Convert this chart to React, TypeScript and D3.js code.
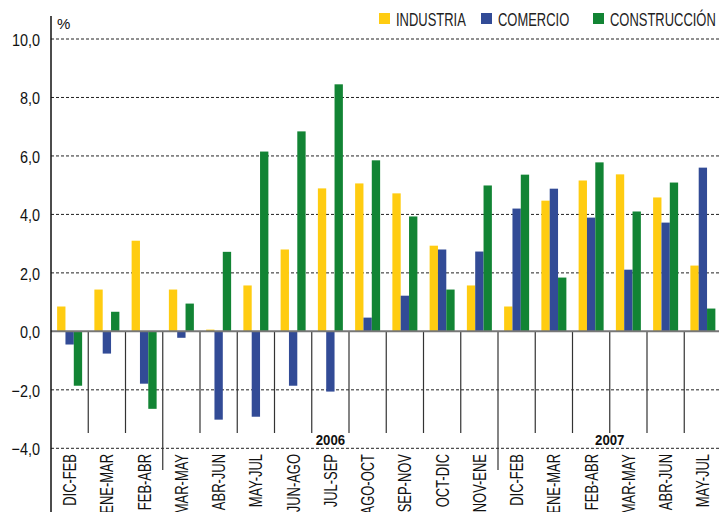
import React from "react";
import * as d3 from "d3";

const categories = [
  "DIC-FEB", "ENE-MAR", "FEB-ABR", "MAR-MAY", "ABR-JUN", "MAY-JUL",
  "JUN-AGO", "JUL-SEP", "AGO-OCT", "SEP-NOV", "OCT-DIC", "NOV-ENE",
  "DIC-FEB", "ENE-MAR", "FEB-ABR", "MAR-MAY", "ABR-JUN", "MAY-JUL",
];
const industria = [0.85, 1.43, 3.1, 1.43, 0.06, 1.57, 2.8, 4.89, 5.06, 4.72, 2.93, 1.57, 0.85, 4.47, 5.16, 5.37, 4.58, 2.25];
const comercio = [-0.45, -0.76, -1.79, -0.22, -3.02, -2.92, -1.86, -2.06, 0.47, 1.22, 2.8, 2.73, 4.2, 4.88, 3.89, 2.11, 3.72, 5.6];
const construccion = [-1.86, 0.67, -2.65, 0.95, 2.72, 6.15, 6.84, 8.45, 5.85, 3.93, 1.43, 4.99, 5.36, 1.84, 5.78, 4.1, 5.09, 0.78];
const yTicks = [10, 8, 6, 4, 2, 0, -2, -4];
const seriesNames = ["INDUSTRIA", "COMERCIO", "CONSTRUCCIÓN"];
const seriesColors = ["#FFCC11", "#324B96", "#128434"];
// year label: [label, first band, last band]
const years: [string, number, number][] = [["2006", 3, 11], ["2007", 12, 17]];
const yearBreaks = [3, 12];

const W = 719;
const H = 512;
const font = "'Liberation Sans', Arial, sans-serif";

export default function App() {
  const x = d3.scaleBand<number>().domain(d3.range(categories.length)).range([51, 721.5]);
  const y = d3.scaleLinear().domain([-4, 10]).range([448.3, 39]);
  const inner = d3.scaleBand<number>().domain([0, 1, 2]).range([0, 25]);
  const series = [industria, comercio, construccion];
  const bw = x.bandwidth();
  const y0 = y(0);

  return (
    <svg width={W} height={H} style={{ position: "absolute", left: 0, top: 0, background: "#fff" }} fontFamily={font}>
      {/* gridlines */}
      {yTicks.filter(t => t !== 0).map(t => (
        <line key={t} x1={51} x2={W} y1={y(t)} y2={y(t)} stroke="#222" strokeWidth={1} strokeDasharray="3,2" />
      ))}
      {/* y labels */}
      {yTicks.map(t => (
        <text key={t} transform={`translate(40,${y(t) + 7}) scale(0.85,1)`} textAnchor="end" fontSize={17} fill="#111">
          {d3.format(".1f")(t).replace(".", ",")}
        </text>
      ))}
      <text x={57} y={29} fontSize={15} fill="#111">%</text>

      {/* bars */}
      {series.map((vals, s) => (
        <g key={s} fill={seriesColors[s]}>
          {vals.map((v, i) => (
            <rect key={i}
              x={x(i)! + bw / 2 - 12.5 + inner(s)!}
              y={Math.min(y(v), y0)}
              width={inner.bandwidth()}
              height={Math.abs(y(v) - y0)} />
          ))}
        </g>
      ))}

      {/* separators */}
      {d3.range(1, categories.length).map(k => (
        <line key={k} x1={x(k)} x2={x(k)} y1={y0} y2={yearBreaks.includes(k) ? 470 : 433}
          stroke="#333" strokeWidth={1.2} />
      ))}
      <line x1={51} x2={W} y1={y0} y2={y0} stroke="#777" strokeWidth={2} />
      <line x1={51} x2={51} y1={16} y2={H} stroke="#111" strokeWidth={1.5} />

      {/* year labels */}
      {years.map(([lab, a, b]) => (
        <text key={lab} transform={`translate(${(x(a)! + x(b)! + bw) / 2},445) scale(0.88,1)`}
          textAnchor="middle" fontSize={15} fontWeight="bold" fill="#111">{lab}</text>
      ))}

      {/* category labels */}
      {categories.map((c, i) => (
        <text key={i} transform={`translate(${x(i)! + bw / 2 + 6.5},454) rotate(-90) scale(0.72,1)`}
          textAnchor="end" fontSize={18} fill="#111">{c}</text>
      ))}

      {/* legend */}
      {seriesNames.map((n, s) => {
        const lx = [379, 481, 593][s];
        return (
          <g key={n}>
            <rect x={lx} y={13} width={11} height={11} fill={seriesColors[s]} />
            <text transform={`translate(${lx + 17},26) scale(0.72,1)`} fontSize={18} fill="#222">{n}</text>
          </g>
        );
      })}
    </svg>
  );
}
